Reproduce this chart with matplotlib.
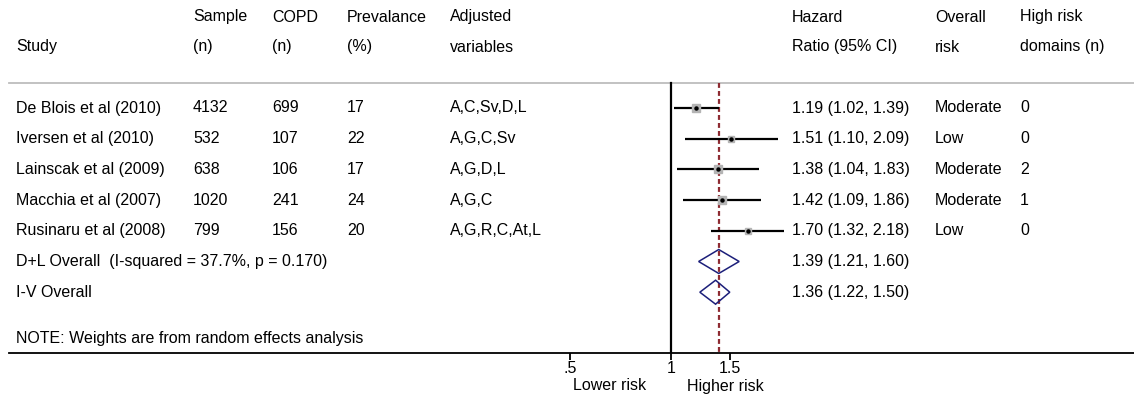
import numpy as np
import matplotlib
matplotlib.use("Agg")
import matplotlib.pyplot as plt
from matplotlib.patches import Polygon

plt.rcParams['font.family'] = ['Liberation Sans', 'DejaVu Sans']

# ---- data ----
studies = ["De Blois et al (2010)", "Iversen et al (2010)", "Lainscak et al (2009)",
           "Macchia et al (2007)", "Rusinaru et al (2008)"]
sample_n = ["4132", "532", "638", "1020", "799"]
copd_n = ["699", "107", "106", "241", "156"]
prevalence = ["17", "22", "17", "24", "20"]
adjusted = ["A,C,Sv,D,L", "A,G,C,Sv", "A,G,D,L", "A,G,C", "A,G,R,C,At,L"]
hr = [1.19, 1.51, 1.38, 1.42, 1.70]
lo = [1.02, 1.10, 1.04, 1.09, 1.32]
hi = [1.39, 2.09, 1.83, 1.86, 2.18]
overall_risk = ["Moderate", "Low", "Moderate", "Moderate", "Low"]
high_risk_domains = ["0", "0", "2", "1", "0"]
box_weight = [30, 20, 21, 21, 19]  # relative box areas (estimated)

pooled_labels = ["D+L Overall  (I-squared = 37.7%, p = 0.170)", "I-V Overall"]
pooled_hr = [1.39, 1.36]
pooled_lo = [1.21, 1.22]
pooled_hi = [1.60, 1.50]
note = "NOTE: Weights are from random effects analysis"

header1 = ["", "Sample", "COPD", "Prevalance", "Adjusted", "Hazard", "Overall", "High risk"]
header2 = ["Study", "(n)", "(n)", "(%)", "variables", "Ratio (95% CI)", "risk", "domains (n)"]
xticks = [0.5, 1, 1.5]
xticklabels = [".5", "1", "1.5"]

# ---- layout ----
W, H = 1134, 397
fig = plt.figure(figsize=(W / 100, H / 100), dpi=100)
ax_left_px, ax_bottom_px = 9, 353
ax = fig.add_axes([ax_left_px / W, (H - ax_bottom_px) / H, 1 - ax_left_px / W, ax_bottom_px / H])
ax.set_xscale('log')
ppl = 145.0   # pixels per ln unit
x1_px = 671   # pixel position of HR = 1
ax.set_xlim(np.exp((ax_left_px - x1_px) / ppl), np.exp((W - x1_px) / ppl))
row0_px, row_px = 108, 30.7
ax.set_ylim((ax_bottom_px - row0_px) / row_px, (0 - row0_px) / row_px)

for s in ['top', 'right', 'left']:
    ax.spines[s].set_visible(False)
ax.spines['bottom'].set_linewidth(1.3)
ax.set_yticks([])
ax.set_xticks(xticks)
ax.set_xticklabels(xticklabels)
ax.xaxis.set_minor_locator(matplotlib.ticker.NullLocator())
ax.tick_params(axis='x', direction='out', length=5, width=1.3, labelsize=11.5, pad=0.5)

fs = 11.5
col_x_px = [16, 193, 272, 347, 450, 792, 935, 1020]
tr = ax.get_yaxis_transform()  # x in axes fraction, y in data


def colx(px):
    return (px - ax_left_px) / (W - ax_left_px)


y_h1 = (17 - row0_px) / row_px
y_h2 = (47 - row0_px) / row_px
for cx, t1, t2 in zip(col_x_px, header1, header2):
    if t1:
        ax.text(colx(cx), y_h1, t1, transform=tr, fontsize=fs, va='center', ha='left')
    ax.text(colx(cx), y_h2, t2, transform=tr, fontsize=fs, va='center', ha='left')

# gray separator
y_sep = (83 - row0_px) / row_px
ax.plot([0, 1], [y_sep, y_sep], transform=tr, color='#bdbdbd', lw=1.3, clip_on=False)

# study rows
for i in range(len(studies)):
    vals = [studies[i], sample_n[i], copd_n[i], prevalence[i], adjusted[i],
            f"{hr[i]:.2f} ({lo[i]:.2f}, {hi[i]:.2f})", overall_risk[i], high_risk_domains[i]]
    for cx, v in zip(col_x_px, vals):
        ax.text(colx(cx), i, v, transform=tr, fontsize=fs, va='center', ha='left')

# pooled rows
n = len(studies)
for j in range(len(pooled_labels)):
    y = n + j
    ax.text(colx(col_x_px[0]), y, pooled_labels[j], transform=tr, fontsize=fs, va='center', ha='left')
    ax.text(colx(col_x_px[5]), y, f"{pooled_hr[j]:.2f} ({pooled_lo[j]:.2f}, {pooled_hi[j]:.2f})",
            transform=tr, fontsize=fs, va='center', ha='left')

y_note = (338 - row0_px) / row_px
ax.text(colx(col_x_px[0]), y_note, note, transform=tr, fontsize=fs, va='center', ha='left')

# reference lines
ax.plot([1, 1], [y_sep, ax.get_ylim()[0]], color='black', lw=1.6, zorder=2)
ax.plot([pooled_hr[0]] * 2, [y_sep, ax.get_ylim()[0]], color='#8e2b32', lw=1.6,
        ls=(0, (2.2, 1.4)), zorder=2)

# CIs and boxes
for i in range(n):
    ax.plot([lo[i], hi[i]], [i, i], color='black', lw=1.6, zorder=3, solid_capstyle='butt')
    ax.plot(hr[i], i, marker='s', ms=np.sqrt(box_weight[i]) * 1.1, color='#b4b4b4',
            mec='#b4b4b4', zorder=4, ls='none')
    ax.plot(hr[i], i, marker='o', ms=2.2, color='black', zorder=5, ls='none')

# diamonds
dh = 0.39
for j in range(len(pooled_hr)):
    y = n + j
    poly = Polygon([[pooled_lo[j], y], [pooled_hr[j], y - dh], [pooled_hi[j], y], [pooled_hr[j], y + dh]],
                   closed=True, fill=False, edgecolor='#1c1f7a', lw=1.1, zorder=4)
    ax.add_patch(poly)

# axis annotations
xtr = ax.get_xaxis_transform()
ax.text(np.exp((610 - x1_px) / ppl), -(386 - ax_bottom_px) / ax_bottom_px, "Lower risk",
        transform=xtr, fontsize=11.5, ha='center', va='center')
ax.text(np.exp((725 - x1_px) / ppl), -(386 - ax_bottom_px) / ax_bottom_px, "Higher risk",
        transform=xtr, fontsize=11.5, ha='center', va='center')

fig.savefig("out.png", dpi=100)
